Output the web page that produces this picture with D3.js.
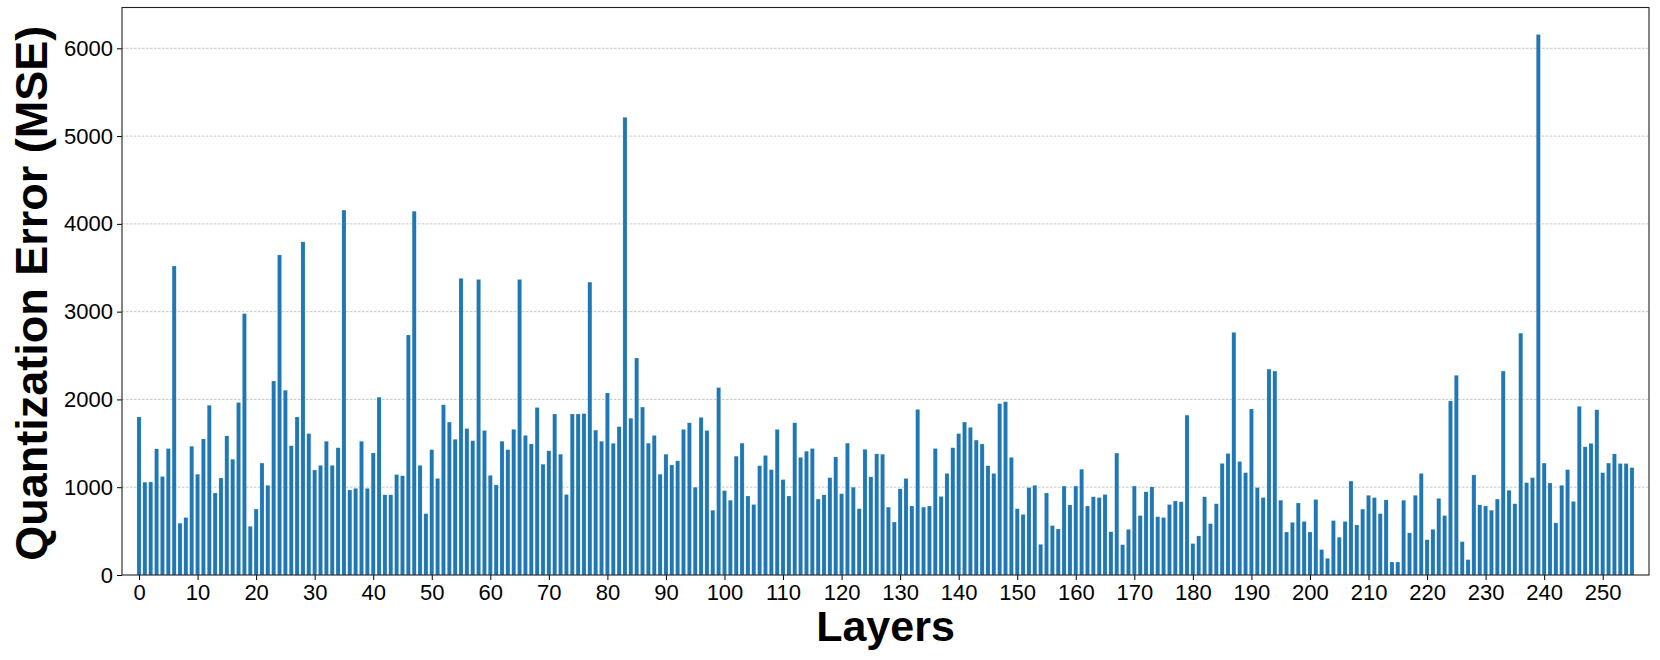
<!DOCTYPE html>
<html>
<head>
<meta charset="utf-8">
<script src="https://cdn.jsdelivr.net/npm/d3@7"></script>
<style>
  html, body { margin: 0; padding: 0; background: #fff; }
  svg { display: block; }
  text { font-family: "Liberation Sans", Arial, Helvetica, sans-serif; fill: #000; }
</style>
</head>
<body>
<svg id="chart" width="1660" height="660"></svg>
<script>
// Quantization error (MSE) per layer, layers 0..255
const mseValues = [
  1800, 1057, 1060, 1437, 1122, 1441, 3520, 590, 655, 1467,
  1148, 1550, 1934, 934, 1105, 1585, 1319, 1965, 2978, 555,
  751, 1275, 1022, 2210, 3646, 2105, 1472, 1800, 3795, 1611,
  1196, 1249, 1524, 1249, 1450, 4157, 969, 987, 1524, 987,
  1390, 2026, 913, 913, 1144, 1131, 2734, 4144, 1249, 699,
  1428, 1100, 1939, 1742, 1546, 3380, 1668, 1530, 3367, 1646,
  1135, 1026, 1524, 1428, 1660, 3367, 1590, 1493, 1908, 1262,
  1415, 1834, 1376, 917, 1834, 1834, 1838, 3336, 1650, 1524,
  2074, 1500, 1690, 5214, 1786, 2472, 1913, 1502, 1590, 1148,
  1376, 1253, 1301, 1659, 1734, 1000, 1795, 1646, 738, 2135,
  961, 852, 1354, 1502, 900, 803, 1245, 1362, 1200, 1659,
  1087, 900, 1734, 1340, 1410, 1441, 865, 913, 1109, 1345,
  926, 1502, 1000, 755, 1432, 1118, 1380, 1376, 773, 603,
  982, 1100, 786, 1886, 773, 786, 1441, 895, 1157, 1450,
  1611, 1742, 1681, 1537, 1493, 1245, 1157, 1952, 1974, 1340,
  755, 690, 996, 1022, 349, 934, 563, 524, 1013, 799,
  1013, 1205, 786, 891, 882, 917, 493, 1389, 345, 520,
  1013, 677, 948, 1004, 664, 655, 803, 843, 834, 1821,
  358, 445, 891, 585, 812, 1271, 1384, 2764, 1293, 1166,
  1891, 996, 882, 2345, 2323, 852, 490, 600, 820, 610,
  490, 860, 290, 190, 620, 430, 610, 1070, 570, 750,
  908, 882, 699, 856, 148, 148, 852, 480, 908, 1157,
  402, 520, 873, 677, 1983, 2275, 380, 175, 1140, 799,
  786, 738, 865, 2323, 965, 812, 2755, 1052, 1109, 6157,
  1275, 1048, 594, 1022, 1200, 838, 1921, 1460, 1500, 1882,
  1166, 1275, 1380, 1270, 1270, 1223
];
const layers = d3.range(mseValues.length);
const xTickValues = d3.range(0, 251, 10);
const yTickValues = [0, 1000, 2000, 3000, 4000, 5000, 6000];
const xLabel = "Layers";
const yLabel = "Quantization Error (MSE)";

const svg = d3.select("#chart");
const plot = { left: 122, right: 1649, top: 7.5, bottom: 575 };
const barWidth = 0.7;
const n = mseValues.length;
const pad = 0.01 * (n - 1 + barWidth);

const x = d3.scaleLinear()
  .domain([-barWidth / 2 - pad, n - 1 + barWidth / 2 + pad])
  .range([plot.left, plot.right]);
const yMax = d3.max(mseValues) * 1.05;
const y = d3.scaleLinear().domain([0, yMax]).range([plot.bottom, plot.top]);

// gridlines
svg.append("g")
  .selectAll("line")
  .data(yTickValues.filter(v => v > 0))
  .join("line")
  .attr("x1", plot.left).attr("x2", plot.right)
  .attr("y1", d => y(d)).attr("y2", d => y(d))
  .attr("stroke", "#b8b8b8")
  .attr("stroke-width", 0.8)
  .attr("stroke-dasharray", "2.5,1.5");

// bars
const bw = x(barWidth) - x(0);
svg.append("g")
  .selectAll("rect")
  .data(layers)
  .join("rect")
  .attr("x", i => x(i) - bw / 2)
  .attr("width", bw)
  .attr("y", i => y(mseValues[i]))
  .attr("height", i => y(0) - y(mseValues[i]))
  .attr("fill", "#1f77b4")
  .attr("stroke", "#ffffff")
  .attr("stroke-opacity", 0.35)
  .attr("stroke-width", 0.5);

// axes
const xAxis = d3.axisBottom(x).tickValues(xTickValues).tickSize(5).tickPadding(4).tickFormat(d3.format("d"));
const yAxis = d3.axisLeft(y).tickValues(yTickValues).tickSize(5).tickPadding(4).tickFormat(d3.format("d"));

const gx = svg.append("g").attr("transform", `translate(0,${plot.bottom})`).call(xAxis);
const gy = svg.append("g").attr("transform", `translate(${plot.left},0)`).call(yAxis);
[gx, gy].forEach(g => {
  g.select(".domain").remove();
  g.selectAll(".tick line").attr("stroke", "#000").attr("stroke-width", 1);
  g.selectAll(".tick text").attr("font-size", 22).attr("fill", "#000")
    .style("font-family", '"Liberation Sans", Arial, Helvetica, sans-serif');
});

// frame
svg.append("rect")
  .attr("x", plot.left).attr("y", plot.top)
  .attr("width", plot.right - plot.left).attr("height", plot.bottom - plot.top)
  .attr("fill", "none").attr("stroke", "#222").attr("stroke-width", 1.1);

// axis labels
svg.append("text")
  .attr("x", (plot.left + plot.right) / 2)
  .attr("y", 641)
  .attr("text-anchor", "middle")
  .attr("font-size", 43)
  .attr("font-weight", "bold")
  .text(xLabel);

svg.append("text")
  .attr("transform", `translate(47,${(plot.top + plot.bottom) / 2 + 2}) rotate(-90)`)
  .attr("text-anchor", "middle")
  .attr("font-size", 45)
  .attr("font-weight", "bold")
  .text(yLabel);
</script>
</body>
</html>
